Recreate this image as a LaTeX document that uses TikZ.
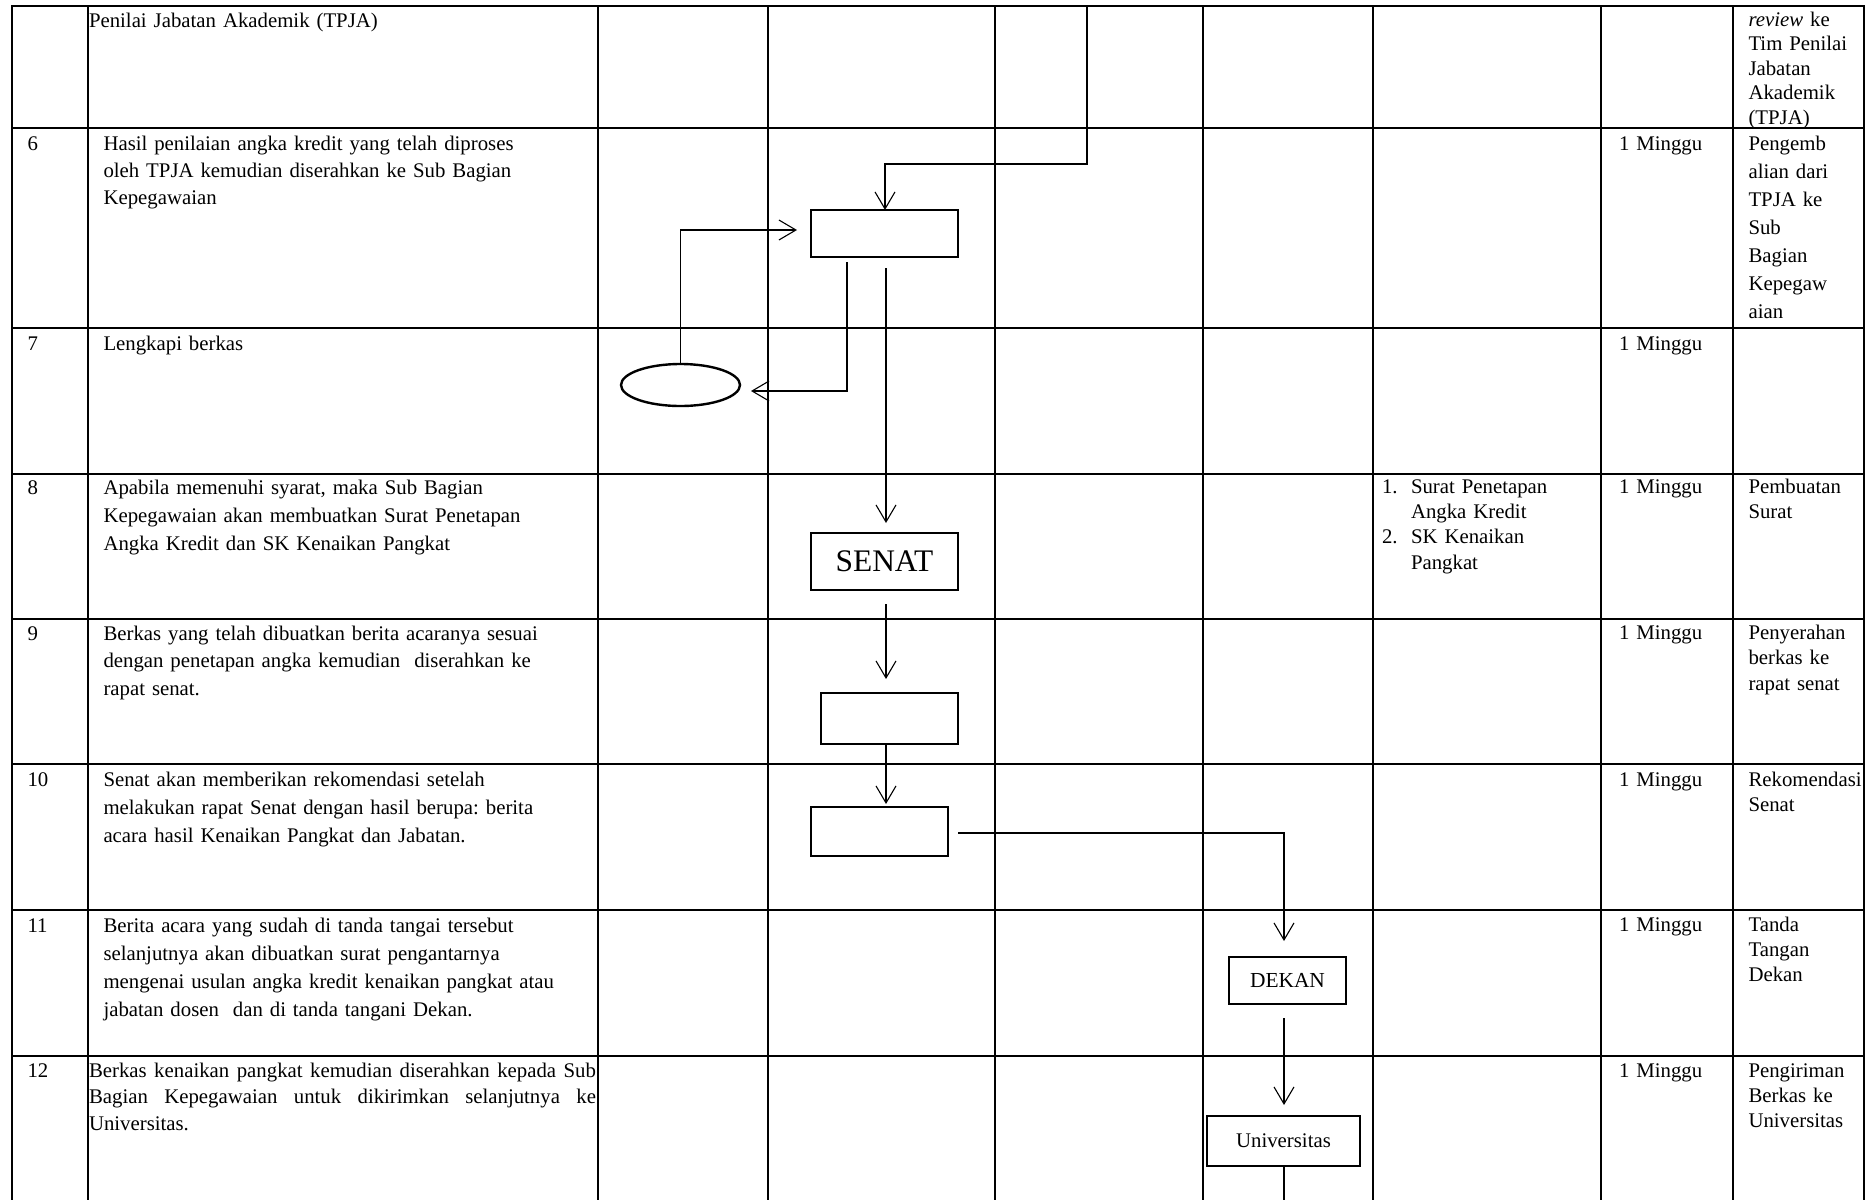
\documentclass[tikz,border=0pt]{standalone}
\usepackage{fontspec}
\setmainfont{Liberation Serif}
\usetikzlibrary{arrows.meta,calc,shapes.geometric}
\frenchspacing
\begin{document}
\begin{tikzpicture}[x=0.5pt,y=-0.5pt,
  tabline/.style={line width=1pt,line cap=rect},
  box/.style={draw,line width=1.35pt,inner sep=0pt,outer sep=0pt},
  conn/.style={line width=0.55pt},
  arr/.style={conn,-{Straight Barb[length=8.5pt,width=10pt]}},
  txt/.style={anchor=base west,inner sep=0pt,outer sep=0pt,align=left,text width=#1},
  txt/.default=250pt,
  bodytxt/.style={font=\fontsize{10.4}{13.9}\selectfont},
  celltxt/.style={font=\fontsize{10.4}{12.5}\selectfont},
]
\useasboundingbox (0,0) rectangle (1875,1200);

% table grid
\foreach \x in {12,88,598,768,995,1203,1373,1601,1733,1864}
  \draw[tabline] (\x,6) -- (\x,1202);
\foreach \y in {6,128,328,474,619,764,910,1056}
  \draw[tabline] (12,\y) -- (1864,\y);

% row 5 (continued)
\node[txt=250pt,bodytxt] (t5) at (89,27) {Penilai Jabatan Akademik (TPJA)};
\node[txt=62pt,font=\fontsize{10.4}{12.25}\selectfont] (k5) at (1748.5,26) {\textit{review} ke\\Tim Penilai\\Jabatan\\Akademik\\(TPJA)};

% row 6
\node[txt=20pt,bodytxt] (n6) at (27.5,150) {6};
\node[txt=250pt,font=\fontsize{10.4}{13.5}\selectfont] (t6) at (103.5,150) {Hasil penilaian angka kredit yang telah diproses\\oleh TPJA kemudian diserahkan ke Sub Bagian\\Kepegawaian};
\node[txt=60pt,bodytxt] (m6) at (1619,150) {1 Minggu};
\node[txt=62pt,font=\fontsize{10.4}{14}\selectfont] (k6) at (1748.5,150) {Pengemb\\alian dari\\TPJA ke\\Sub\\Bagian\\Kepegaw\\aian};

% row 7
\node[txt=20pt,bodytxt] (n7) at (27.5,350) {7};
\node[txt=250pt,bodytxt] (t7) at (103.5,350) {Lengkapi berkas};
\node[txt=60pt,bodytxt] (m7) at (1619,350) {1 Minggu};

% row 8
\node[txt=20pt,bodytxt] (n8) at (27.5,494) {8};
\node[txt=250pt,font=\fontsize{10.4}{14}\selectfont] (t8) at (103.5,494) {Apabila memenuhi syarat, maka Sub Bagian\\Kepegawaian akan membuatkan Surat Penetapan\\Angka Kredit dan SK Kenaikan Pangkat};
\node[txt=90pt,font=\fontsize{10.4}{12.7}\selectfont] (l8) at (1382,493) {\makebox[14.5pt][l]{1.}Surat Penetapan\\\hspace*{14.5pt}Angka Kredit\\\makebox[14.5pt][l]{2.}SK Kenaikan\\\hspace*{14.5pt}Pangkat};
\node[txt=60pt,bodytxt] (m8) at (1619,493) {1 Minggu};
\node[txt=62pt,celltxt] (k8) at (1748.5,493) {Pembuatan\\Surat};

% row 9
\node[txt=20pt,bodytxt] (n9) at (27.5,640) {9};
\node[txt=250pt,font=\fontsize{10.4}{13.75}\selectfont] (t9) at (103.5,640) {Berkas yang telah dibuatkan berita acaranya sesuai\\dengan penetapan angka kemudian\ \ diserahkan ke\\rapat senat.};
\node[txt=60pt,bodytxt] (m9) at (1619,639) {1 Minggu};
\node[txt=62pt,font=\fontsize{10.4}{12.75}\selectfont] (k9) at (1748.5,639) {Penyerahan\\berkas ke\\rapat senat};

% row 10
\node[txt=20pt,bodytxt] (n10) at (27.5,786) {10};
\node[txt=250pt,font=\fontsize{10.4}{14}\selectfont] (t10) at (103.5,786) {Senat akan memberikan rekomendasi setelah\\melakukan rapat Senat dengan hasil berupa: berita\\acara hasil Kenaikan Pangkat dan Jabatan.};
\node[txt=60pt,bodytxt] (m10) at (1619,786) {1 Minggu};
\node[txt=62pt,celltxt] (k10) at (1748.5,786) {Rekomendasi\\Senat};

% row 11
\node[txt=20pt,bodytxt] (n11) at (27.5,932) {11};
\node[txt=250pt,font=\fontsize{10.4}{14.15}\selectfont] (t11) at (103.5,932) {Berita acara yang sudah di tanda tangai tersebut\\selanjutnya akan dibuatkan surat pengantarnya\\mengenai usulan angka kredit kenaikan pangkat atau\\jabatan dosen\ \ dan di tanda tangani Dekan.};
\node[txt=60pt,bodytxt] (m11) at (1619,931) {1 Minggu};
\node[txt=62pt,celltxt] (k11) at (1748.5,931) {Tanda\\Tangan\\Dekan};

% row 12
\node[txt=20pt,bodytxt] (n12) at (27.5,1077) {12};
\node[txt=254pt,font=\fontsize{10.4}{13.25}\selectfont] (t12) at (89,1077) {\makebox[253.5pt][s]{Berkas\hfill kenaikan\hfill pangkat\hfill kemudian\hfill diserahkan\hfill kepada\hfill Sub}\\\makebox[253.5pt][s]{Bagian\hfill Kepegawaian\hfill untuk\hfill dikirimkan\hfill selanjutnya\hfill ke}\\Universitas.};
\node[txt=60pt,bodytxt] (m12) at (1619,1077) {1 Minggu};
\node[txt=62pt,celltxt] (k12) at (1748.5,1077) {Pengiriman\\Berkas ke\\Universitas};

% flow symbols
\node[box,minimum width=73.5pt,minimum height=23.5pt] (boxA) at (884.5,233.5) {};
\node[draw,ellipse,line width=1.2pt,minimum width=59.5pt,minimum height=21pt,inner sep=0pt,outer sep=0pt] (ell) at (680.5,385) {};
\node[box,minimum width=73.5pt,minimum height=28.5pt,font=\fontsize{15.7}{18}\selectfont] (senat) at (884.5,561.5) {SENAT};
\node[box,minimum width=68.5pt,minimum height=25.5pt] (boxC) at (889.5,718.5) {};
\node[box,minimum width=68.5pt,minimum height=24.5pt] (boxD) at (879.5,831.5) {};
\node[box,minimum width=58.5pt,minimum height=23.5pt,font=\fontsize{10.7}{12}\selectfont] (dekan) at (1287.5,980.5) {DEKAN};
\node[box,minimum width=76.5pt,minimum height=25pt,font=\fontsize{10.4}{12}\selectfont] (univ) at (1283.5,1141) {Universitas};

\coordinate (tin) at (1087,6);
\coordinate (bout) at (1284,1202);

% connectors
\draw[arr] (tin) |- ($(boxA.north)+(0.5,-46)$) -- ($(boxA.north)+(0.5,0)$);
\draw[arr] (ell.north) |- ($(boxA.west)+(-14,-3.5)$);
\draw[arr] ($(boxA.south)+(-37.5,5)$) |- ($(ell.east)+(11,6)$);
\draw[arr] ($(boxA.south)+(1.5,11)$) -- ($(senat.north)+(1.5,-10)$);
\draw[arr] ($(senat.south)+(1.5,14)$) -- ($(boxC.north)+(-3.5,-14)$);
\draw[arr] ($(boxC.south)+(-3.5,0)$) -- ($(boxD.north)+(6.5,-3)$);
\draw[arr] ($(boxD.east)+(10,1.5)$) -| ($(dekan.north)+(-3.5,-16)$);
\draw[arr] ($(dekan.south)+(-3.5,14)$) -- ($(univ.north)+(0.5,-11)$);
\draw[conn] ($(univ.south)+(0.5,0)$) -- (bout);
\end{tikzpicture}
\end{document}
